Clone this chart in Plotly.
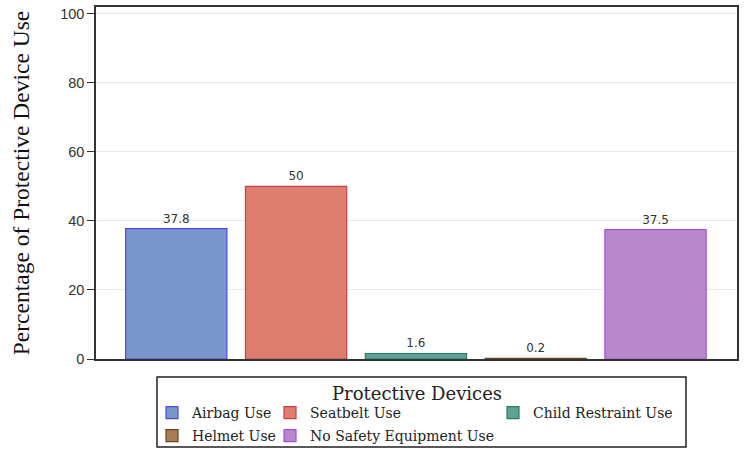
import plotly.graph_objects as go

categories = ["Airbag Use", "Seatbelt Use", "Child Restraint Use", "Helmet Use", "No Safety Equipment Use"]
values = [37.8, 50, 1.6, 0.2, 37.5]
labels = ["37.8", "50", "1.6", "0.2", "37.5"]
fill_colors = ["#7b96cc", "#de7e6e", "#5fa397", "#a57f53", "#b789cc"]
line_colors = ["#4a4ae0", "#c8404c", "#2a7a68", "#6b4522", "#a24fe0"]
y_ticks = [0, 20, 40, 60, 80, 100]

W, H = 744, 451
L, R, T, B = 96, 7, 7, 92
pw, ph = W - L - R, H - T - B
def px(x):
    return (x - L) / pw
def py(y):
    return (H - B - y) / ph

leg_pos = [(165, 413), (283, 413), (506, 413), (165, 436), (283, 436)]

fig = go.Figure()
for i, cat in enumerate(categories):
    lname = "legend" if i == 0 else f"legend{i+1}"
    fig.add_trace(go.Bar(
        x=[cat], y=[values[i]], name=cat,
        text=[labels[i]], textposition="outside",
        textfont=dict(family="DejaVu Sans", size=12, color="#333333"),
        marker=dict(color=fill_colors[i], line=dict(color=line_colors[i], width=1.2)),
        width=0.845, cliponaxis=False, legend=lname,
    ))

layout_legends = {}
for i, (lx, ly) in enumerate(leg_pos):
    lname = "legend" if i == 0 else f"legend{i+1}"
    layout_legends[lname] = dict(
        x=px(lx - 13), y=py(ly), xanchor="left", yanchor="middle",
        bgcolor="rgba(0,0,0,0)", borderwidth=0,
        font=dict(family="DejaVu Serif", size=14, color="#222222"),
    )

fig.update_layout(
    width=W, height=H,
    margin=dict(l=L, r=R, t=T, b=B, autoexpand=False),
    paper_bgcolor="white", plot_bgcolor="white",
    showlegend=True,
    xaxis=dict(
        categoryorder="array", categoryarray=categories,
        range=[-0.67, 4.68], showticklabels=False, ticks="",
        showline=True, linecolor="#333333", linewidth=1.5, mirror=True,
        showgrid=False, zeroline=False,
    ),
    yaxis=dict(
        range=[0, 102.0], tickvals=y_ticks, ticks="outside", ticklen=7,
        tickcolor="#333333", tickfont=dict(family="Liberation Sans", size=14.5, color="#333333"),
        showline=True, linecolor="#333333", linewidth=1.5, mirror=True,
        showgrid=True, gridcolor="#e8e8e8", gridwidth=1, zeroline=False,
        title=dict(text="Percentage of Protective Device Use",
                   font=dict(family="Liberation Serif", size=23.5, color="#111111"),
                   standoff=24),
    ),
    shapes=[dict(type="rect", xref="paper", yref="paper",
                 x0=px(157), x1=px(686), y0=py(447), y1=py(377),
                 line=dict(color="#222222", width=1.5), fillcolor="rgba(0,0,0,0)")],
    annotations=[dict(text="Protective Devices", xref="paper", yref="paper",
                      x=px(417), y=py(393), xanchor="center", yanchor="middle",
                      showarrow=False,
                      font=dict(family="DejaVu Serif", size=18, color="#222222"))],
    **layout_legends,
)

fig.write_html("out.html", config={"displayModeBar": False})

# remove the default browser body margin so the figure sits at the page origin
with open("out.html", "r", encoding="utf-8") as f:
    html = f.read()
html = html.replace("<body>", '<body style="margin:0;padding:0;overflow:hidden">', 1)
with open("out.html", "w", encoding="utf-8") as f:
    f.write(html)
